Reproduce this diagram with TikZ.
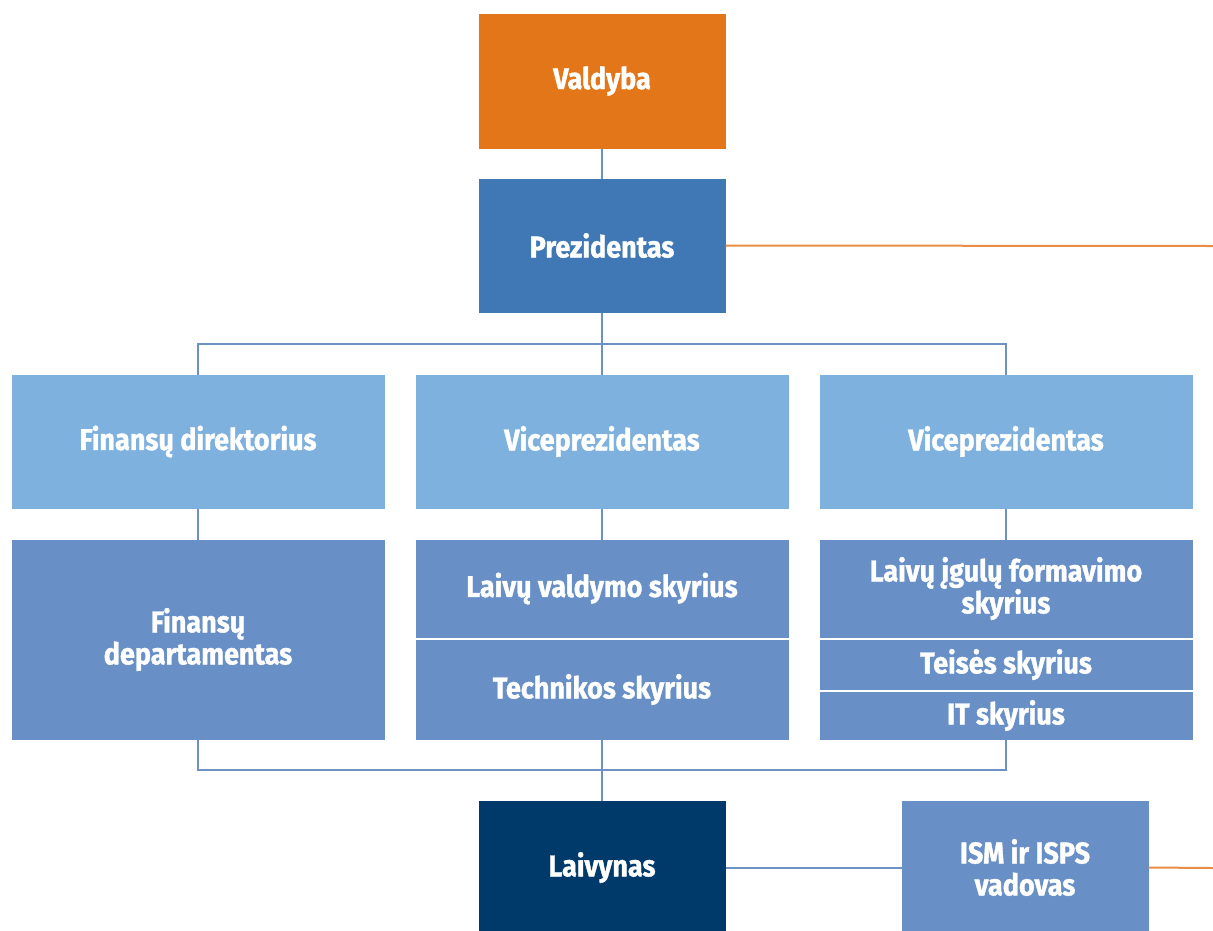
\documentclass[tikz,border=0pt]{standalone}
\usepackage{fontspec}
\setmainfont{Fira Sans}[FakeStretch=0.9, BoldFeatures={FakeBold=1.2}]
\usetikzlibrary{positioning}
\definecolor{cOrange}{RGB}{227,118,25}
\definecolor{cBlue}{RGB}{64,120,181}
\definecolor{cLight}{RGB}{127,177,223}
\definecolor{cMed}{RGB}{104,144,198}
\definecolor{cNavy}{RGB}{0,58,107}
\definecolor{cLine}{RGB}{110,145,195}
\definecolor{cOrgLine}{RGB}{232,140,70}
\tikzset{
  basebox/.style={rectangle,outer sep=0pt,inner sep=2pt,align=center,
                  text=white,font=\fontsize{30}{32}\selectfont\bfseries},
  orangenode/.style={basebox,fill=cOrange,minimum width=247pt,minimum height=135pt},
  bluenode/.style={basebox,fill=cBlue,minimum width=247pt,minimum height=134pt},
  lightnode/.style={basebox,fill=cLight,minimum width=373pt,minimum height=134pt},
  mednode/.style={basebox,fill=cMed,minimum width=373pt},
  navynode/.style={basebox,fill=cNavy,minimum width=247pt,minimum height=134pt},
  conn/.style={line width=2pt,color=cLine},
  orgconn/.style={line width=2pt,color=cOrgLine}
}
\begin{document}
\begin{tikzpicture}[x=1pt,y=-1pt]
  \useasboundingbox (0,0) rectangle (1213,930);

  % top
  \node[orangenode] (valdyba) at (602,81) {Valdyba};
  \node[bluenode, below=30pt of valdyba] (prez) {Prezidentas};

  % first row
  \node[lightnode, below=62pt of prez] (vp1) {Viceprezidentas};
  \node[lightnode, left=31pt of vp1] (findir) {Finansų direktorius};
  \node[lightnode, right=31pt of vp1] (vp2) {Viceprezidentas};

  % second row
  \node[mednode, minimum height=200pt, below=31pt of findir] (findep)
      {Finansų\\departamentas};
  \node[mednode, minimum height=98pt, below=31pt of vp1] (laivval)
      {Laivų valdymo skyrius};
  \node[mednode, minimum height=100pt, below=2pt of laivval] (tech)
      {Technikos skyrius};
  \node[mednode, minimum height=98pt, below=31pt of vp2] (igulu)
      {Laivų įgulų formavimo\\skyrius};
  \node[mednode, minimum height=50pt, below=2pt of igulu] (teises)
      {Teisės skyrius};
  \node[mednode, minimum height=48pt, below=2pt of teises] (itsk)
      {IT skyrius};

  % bottom
  \node[navynode, below=61pt of tech] (laivynas) {Laivynas};
  \node[mednode, minimum width=247pt, minimum height=134pt,
        right=176pt of laivynas] (ism) {ISM ir ISPS\\vadovas};

  \coordinate (bus1) at (601,344);
  \coordinate (bus2) at (601,770);
  \coordinate (edgeP) at (1213,246);
  \coordinate (edgeI) at (1213,868);

  \draw[conn] (valdyba.south) -- (prez.north);
  \draw[orgconn] (prez.east) -- (edgeP);
  \draw[conn] (prez.south) -- (vp1.north);
  \draw[conn] (findir.north) |- (bus1) -| (vp2.north);
  \draw[conn] (findir.south) -- (findep.north);
  \draw[conn] (vp1.south) -- (laivval.north);
  \draw[conn] (vp2.south) -- (igulu.north);
  \draw[conn] (findep.south) |- (bus2) -| (itsk.south);
  \draw[conn] (tech.south) -- (laivynas.north);
  \draw[conn] (laivynas.east) -- (ism.west);
  \draw[orgconn] (ism.east) -- (edgeI);

\end{tikzpicture}
\end{document}
